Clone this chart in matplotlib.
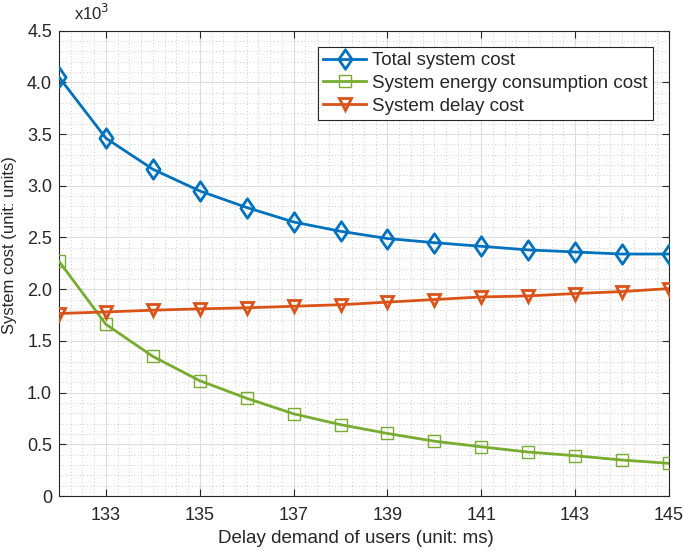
import numpy as np
import matplotlib
matplotlib.use("Agg")
import matplotlib.pyplot as plt
from matplotlib.path import Path
from matplotlib.ticker import MultipleLocator, FuncFormatter

plt.rcParams['font.family'] = ['Liberation Sans', 'DejaVu Sans']

# data (x10^3 units)
delay = [132, 133, 134, 135, 136, 137, 138, 139, 140, 141, 142, 143, 144, 145]
total_cost = [4.05, 3.46, 3.16, 2.95, 2.79, 2.65, 2.56, 2.49, 2.45, 2.415, 2.38, 2.36, 2.34, 2.34]
energy_cost = [2.27, 1.66, 1.35, 1.115, 0.945, 0.795, 0.69, 0.605, 0.53, 0.476, 0.425, 0.39, 0.348, 0.316]
delay_cost = [1.765, 1.78, 1.797, 1.81, 1.82, 1.835, 1.85, 1.875, 1.90, 1.925, 1.935, 1.958, 1.977, 2.006]

xticks = [133, 135, 137, 139, 141, 143, 145]

txt = '#262626'
fs = 13

# matlab style diamond, a bit taller than wide
diamond = Path([(0, 1), (0.68, 0), (0, -1), (-0.68, 0), (0, 1)],
               [Path.MOVETO, Path.LINETO, Path.LINETO, Path.LINETO, Path.CLOSEPOLY])

fig = plt.figure(figsize=(6.84, 5.51), dpi=100)
ax = fig.add_axes([0.0863, 0.0998, 0.8917, 0.8445])

ax.plot(delay, total_cost, color='#0072BD', lw=2, marker=diamond, ms=14,
        mfc='none', mew=2, label='Total system cost', zorder=3)
ax.plot(delay, energy_cost, color='#77AC30', lw=2, marker='s', ms=8.5,
        mfc='none', mew=1, label='System energy consumption cost', zorder=3)
ax.plot(delay, delay_cost, color='#D95319', lw=2, marker='v', ms=9,
        mfc='none', mew=2, label='System delay cost', zorder=3)

ax.set_xlim(132, 145)
ax.set_ylim(0, 4.5)
ax.set_xticks(xticks)
ax.yaxis.set_major_locator(MultipleLocator(0.5))
ax.xaxis.set_minor_locator(MultipleLocator(0.25))
ax.yaxis.set_minor_locator(MultipleLocator(0.1))
ax.yaxis.set_major_formatter(FuncFormatter(lambda v, p: '0' if v == 0 else '%.1f' % v))

ax.grid(which='major', color='#dcdcdc', lw=0.8, ls='-')
ax.grid(which='minor', color='#cccccc', lw=0.7, ls=(0, (1, 2.5)))
ax.set_axisbelow(True)

ax.tick_params(which='both', direction='in', top=True, right=True,
               colors='#262626', labelsize=fs, labelcolor=txt)
ax.tick_params(which='major', length=5)
ax.tick_params(axis='x', which='major', pad=8)
ax.tick_params(axis='y', which='major', pad=5)
ax.tick_params(which='minor', length=0)
for s in ax.spines.values():
    s.set_color('#262626')
    s.set_linewidth(0.8)

ax.set_xlabel('Delay demand of users (unit: ms)', fontsize=13.5, color=txt)
ax.xaxis.set_label_coords(0.486, -0.074)
ax.set_ylabel('System cost (unit: units)', fontsize=12, color=txt)
ax.yaxis.set_label_coords(-0.069, 0.54)
ax.text(0.025, 1.022, r'x10$^3$', transform=ax.transAxes, fontsize=12, color=txt,
        ha='left', va='baseline')

leg = ax.legend(loc='upper right', bbox_to_anchor=(0.974, 0.966), fontsize=13.5,
                fancybox=False, framealpha=1, edgecolor='#262626',
                handlelength=2.3, handletextpad=0.3, borderpad=0.3,
                labelspacing=0.3, borderaxespad=0)
leg.get_frame().set_linewidth(0.8)
for t in leg.get_texts():
    t.set_color(txt)

fig.savefig('out.png', dpi=100)
